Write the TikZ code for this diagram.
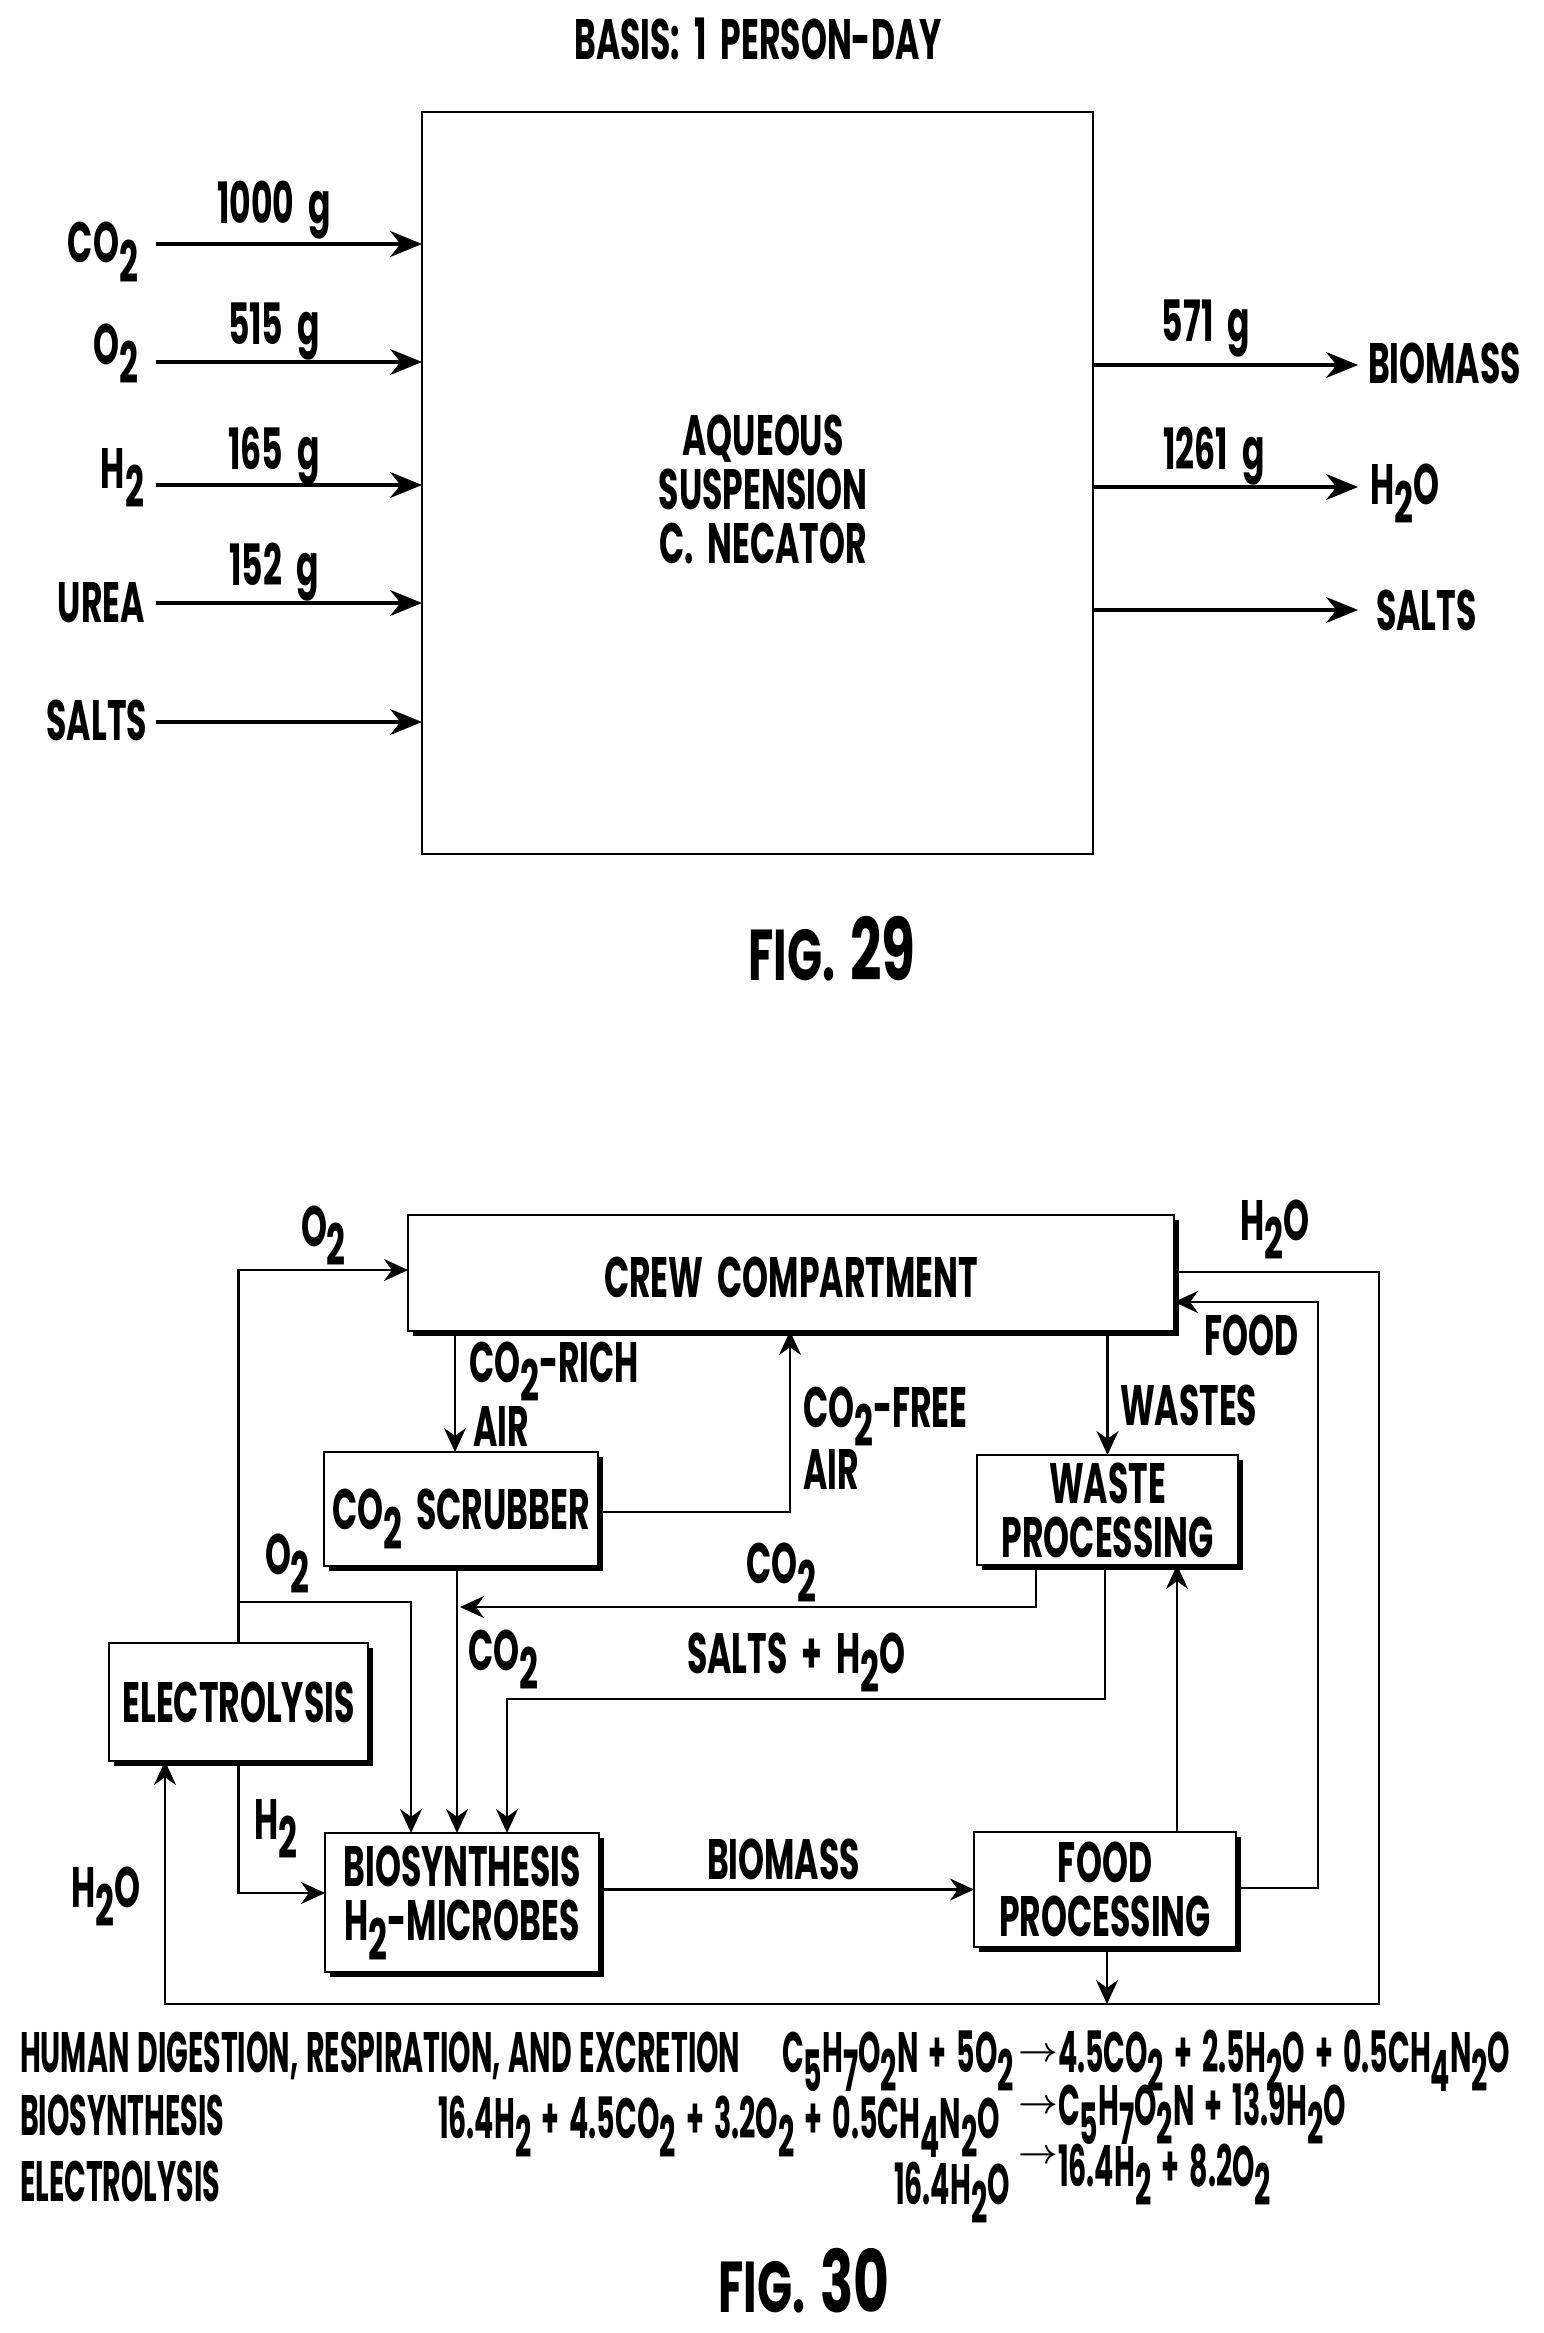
\documentclass[tikz,border=0pt]{standalone}
\usepackage{fontspec}
\setmainfont[FakeStretch=0.58,WordSpace=2]{Poppins}
\newfontfamily\eqfont[FakeStretch=0.5,WordSpace=2.2]{Poppins}
\newfontfamily\rowfont[FakeStretch=0.5,WordSpace=1.3]{Poppins}
\newfontfamily\figfont[FakeStretch=0.64,WordSpace=1.5]{Poppins}
\usetikzlibrary{arrows.meta,shadows}
\newcommand{\lowered}[1]{\smash{\raisebox{-0.35em}{#1}}}
\tikzset{
  txt/.style={inner sep=0pt,outer sep=0pt,font=\bfseries\fontsize{28.5}{27}\selectfont,align=center},
  lblc/.style={txt,anchor=base},
  lbll/.style={txt,anchor=base west},
  lblr/.style={txt,anchor=base east},
  eqn/.style={inner sep=0pt,outer sep=0pt,anchor=base west,font=\eqfont\bfseries\fontsize{28.5}{27}\selectfont},
  rowlbl/.style={inner sep=0pt,outer sep=0pt,anchor=base west,font=\rowfont\bfseries\fontsize{28.5}{27}\selectfont},
  eqarrow/.style={inner sep=0pt,outer sep=0pt,font=\fontsize{17}{17}\selectfont\boldmath},
  figlbl/.style={anchor=base,inner sep=0pt,outer sep=0pt,font=\figfont\bfseries},
  flowbig/.style={line width=1.7pt,-{Stealth[length=16pt,width=13pt]}},
  flow/.style={line width=1.25pt,-{Stealth[length=12pt,width=11pt]}},
  mainbox/.style={draw,line width=1.1pt,inner sep=0pt,outer sep=0pt},
  procbox/.style={draw,fill=white,line width=1.1pt,inner sep=0pt,outer sep=0pt,align=center,
    font=\bfseries\fontsize{28.5}{27}\selectfont,
    drop shadow={shadow xshift=2.5pt,shadow yshift=-2.5pt,opacity=1,fill=black}},
}
\begin{document}
\begin{tikzpicture}[x=0.5pt,y=-0.5pt]
    \useasboundingbox (0,0) rectangle (1543,2333);

    % fig 29
    \node[lblc] (basis) at (758,60) {BASIS: 1 PERSON-DAY};
    \node[mainbox,minimum width=335.5pt,minimum height=371pt] (main) at (757.5,483) {};
    \node[txt] (mainlabel) at (763,489) {AQUEOUS\\SUSPENSION\\C. NECATOR};

    \node[lblr] (inco) at (138,263) {CO\lowered{2}};
    \node[lblr] (ino) at (138,364) {O\lowered{2}};
    \node[lblr] (inh) at (144,488) {H\lowered{2}};
    \node[lblr] (inurea) at (145,622) {UREA};
    \node[lblr] (insalts) at (147,740) {SALTS};

    \coordinate (startco) at (156,244);
    \coordinate (starto) at (156,362);
    \coordinate (starth) at (156,485);
    \coordinate (starturea) at (156,603);
    \coordinate (startsalts) at (156,722);
    \foreach \s in {startco,starto,starth,starturea,startsalts}
        \draw[flowbig] (\s) -- (main.west |- \s);

    \node[lblc] (gco) at (274,224) {1000 g};
    \node[lblc] (go) at (274,344) {515 g};
    \node[lblc] (gh) at (274,469) {165 g};
    \node[lblc] (gurea) at (274,585) {152 g};

    \node[lbll] (outbio) at (1368,383) {BIOMASS};
    \node[lbll] (outh) at (1370,504) {H\lowered{2}O};
    \node[lbll] (outsalts) at (1376,630) {SALTS};

    \coordinate (endbio) at (1358,365);
    \coordinate (endh) at (1358,487);
    \coordinate (endsalts) at (1358,610);
    \foreach \e in {endbio,endh,endsalts}
        \draw[flowbig] (main.east |- \e) -- (\e);

    \node[lblc] (gbio) at (1206,341) {571 g};
    \node[lblc] (gwater) at (1214,469) {1261 g};

    \node[figlbl] (figa) at (832,980) {\fontsize{36}{36}\selectfont FIG. \fontsize{43}{43}\selectfont 29};

    % fig 30
    \node[procbox,minimum width=383pt,minimum height=58pt,text height=24pt,text depth=0pt] (crew) at (791,1273) {CREW COMPARTMENT};
    \node[procbox,minimum width=137pt,minimum height=57pt] (scrub) at (461,1509) {CO\lowered{2} SCRUBBER};
    \node[procbox,minimum width=129.5pt,minimum height=59pt] (elec) at (238.5,1702) {ELECTROLYSIS};
    \node[procbox,minimum width=137pt,minimum height=69.5pt,text depth=9pt] (bio) at (462,1902.5) {BIOSYNTHESIS\\H\lowered{2}-MICROBES};
    \node[procbox,minimum width=130.5pt,minimum height=55pt] (waste) at (1107.5,1510) {WASTE\\PROCESSING};
    \node[procbox,minimum width=131pt,minimum height=57.5pt] (food) at (1105,1889.5) {FOOD\\PROCESSING};

    \coordinate (otop) at (238.5,1270);
    \coordinate (obranch) at (238.5,1602);
    \coordinate (obranchend) at (411,1602);
    \coordinate (hcorner) at (238.5,1893);
    \coordinate (richx) at (455,1400);
    \coordinate (freecorner) at (790,1512);
    \coordinate (downx) at (457,1700);
    \coordinate (wasteco) at (1036,1607);
    \coordinate (scrubend) at (460,1607);
    \coordinate (saltsa) at (1105,1699);
    \coordinate (saltsb) at (507,1699);
    \coordinate (foodup) at (1177,1700);
    \coordinate (foodcornera) at (1318,1888);
    \coordinate (foodcornerb) at (1318,1302);
    \coordinate (loopa) at (1379,1272);
    \coordinate (loopb) at (1379,2004);
    \coordinate (loopc) at (165,2004);
    \coordinate (foodexit) at (1107,2004);

    \draw[flow] (elec.north) -- (otop) -- (crew.west |- otop);
    \draw[flow] (obranch) -- (obranchend) -- (bio.north -| obranchend);
    \draw[flow] (elec.south) -- (hcorner) -- (bio.west |- hcorner);
    \draw[flow] (crew.south -| richx) -- (scrub.north -| richx);
    \draw[flow] (scrub.east |- freecorner) -- (freecorner) -- (crew.south -| freecorner);
    \draw[flow] (scrub.south -| downx) -- (bio.north -| downx);
    \draw[flow] (waste.south -| wasteco) -- (wasteco) -- (scrubend);
    \draw[flow] (waste.south -| saltsa) -- (saltsa) -- (saltsb) -- (bio.north -| saltsb);
    \draw[flow] (crew.south -| waste.north) -- (waste.north);
    \draw[flow] (food.north -| foodup) -- (waste.south -| foodup);
    \draw[flow] (food.east |- foodcornera) -- (foodcornera) -- (foodcornerb) -- (crew.east |- foodcornerb);
    \draw[flow] (bio.east |- food.west) -- (food.west);
    \draw[flow] (food.south -| foodexit) -- (foodexit);
    \draw[flow] (crew.east |- loopa) -- (loopa) -- (loopb) -- (loopc) -- (elec.south -| loopc);

    \node[lbll] (otoplbl) at (301,1246) {O\lowered{2}};
    \node[lbll] (htoplbl) at (1240,1240) {H\lowered{2}O};
    \node[lbll] (richlbl) at (469,1382) {CO\lowered{2}-RICH};
    \node[lbll] (richair) at (473,1446) {AIR};
    \node[lbll] (obranchlbl) at (265,1574) {O\lowered{2}};
    \node[lbll] (codown) at (468,1670) {CO\lowered{2}};
    \node[lbll] (hlbl) at (254,1839) {H\lowered{2}};
    \node[lbll] (hleft) at (71,1907) {H\lowered{2}O};
    \node[lbll] (biomasslbl) at (707,1879) {BIOMASS};
    \node[lbll] (comid) at (746,1583) {CO\lowered{2}};
    \node[lbll] (saltslbl) at (687,1673) {SALTS + H\lowered{2}O};
    \node[lbll] (freelbl) at (803,1427) {CO\lowered{2}-FREE};
    \node[lbll] (freeair) at (803,1489) {AIR};
    \node[lbll] (foodlbl) at (1204,1355) {FOOD};
    \node[lbll] (wasteslbl) at (1120,1425) {WASTES};

    % equations
    \node[rowlbl] (eqhuman) at (20,2072) {HUMAN DIGESTION, RESPIRATION, AND EXCRETION};
    \node[eqn] (eqa) at (782,2072) {C\lowered{5}H\lowered{7}O\lowered{2}N + 5O\lowered{2}};
    \node[eqarrow] (arrowa) at (1038,2055) {$\rightarrow$};
    \node[eqn] (eqb) at (1058,2072) {4.5CO\lowered{2} + 2.5H\lowered{2}O + 0.5CH\lowered{4}N\lowered{2}O};

    \node[rowlbl] (eqbio) at (20,2135) {BIOSYNTHESIS};
    \node[eqn] (eqc) at (438,2138) {16.4H\lowered{2} + 4.5CO\lowered{2} + 3.2O\lowered{2} + 0.5CH\lowered{4}N\lowered{2}O};
    \node[eqarrow] (arrowb) at (1038,2107) {$\rightarrow$};
    \node[eqn] (eqd) at (1058,2125) {C\lowered{5}H\lowered{7}O\lowered{2}N + 13.9H\lowered{2}O};

    \node[rowlbl] (eqelec) at (20,2201) {ELECTROLYSIS};
    \node[eqn] (eqe) at (894,2204) {16.4H\lowered{2}O};
    \node[eqarrow] (arrowc) at (1038,2157) {$\rightarrow$};
    \node[eqn] (eqf) at (1058,2186) {16.4H\lowered{2} + 8.2O\lowered{2}};

    \node[figlbl] (figb) at (804,2312) {\fontsize{36}{36}\selectfont FIG. \fontsize{43}{43}\selectfont 30};
\end{tikzpicture}
\end{document}
